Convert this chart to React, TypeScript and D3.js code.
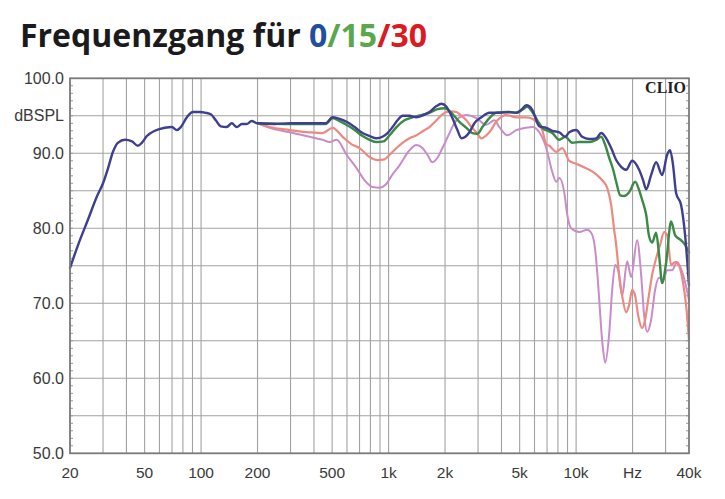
import React from "react";
import * as d3 from "d3";

// ---- data: [frequency Hz, dB SPL] ----
const curve0: [number, number][] = [
  [20, 74.7], [22.1, 77.8], [24.9, 81.1], [27.9, 84.3], [30, 86.0], [31.9, 88.0], [33.9, 90.2],
  [36, 91.4], [39.3, 91.8], [42.8, 91.6], [46, 91.0], [48.3, 91.4], [51.4, 92.3], [56.7, 93.0],
  [64.1, 93.4], [69.9, 93.5], [74.3, 93.1], [78, 93.5], [84, 94.8], [90.4, 95.5], [98.5, 95.5],
  [106, 95.4], [112.7, 95.2], [119.8, 94.4], [127.4, 93.6], [137, 93.5], [145.8, 94.0], [155, 93.5],
  [164.8, 93.9], [175, 93.9], [186, 94.3], [200, 94.0], [247, 93.9], [300, 94.0], [393, 94.0],
  [462, 94.0], [503, 94.8], [548, 94.6], [597, 94.2], [659, 93.5], [727, 92.7], [792, 92.3],
  [863, 92.0], [928, 92.2], [987, 92.7], [1050, 93.5], [1116, 94.4], [1187, 95.0], [1292, 95.0],
  [1408, 94.8], [1535, 95.1], [1652, 95.5], [1800, 96.3], [1914, 96.6], [2035, 96.2], [2190, 94.7],
  [2328, 93.1], [2446, 92.0], [2568, 92.2], [2698, 92.8], [2868, 94.0], [3124, 94.8], [3448, 95.4],
  [3898, 95.4], [4406, 95.5], [4800, 95.4], [5102, 95.8], [5426, 96.4], [5842, 95.8], [6364, 93.6],
  [6934, 93.4], [7466, 93.0], [8134, 92.8], [8752, 92.2], [9192, 92.8], [10020, 93.1], [10778, 92.2],
  [11748, 91.9], [12806, 92.0], [13612, 92.7], [14472, 92.0], [15386, 90.7], [16358, 89.1],
  [17392, 88.2], [18492, 87.8], [19904, 89.0], [21680, 87.8], [22780, 86.4], [23640, 85.2],
  [25120, 87.1], [26720, 88.8], [28760, 87.1], [30580, 89.8], [31720, 90.4], [32900, 88.4],
  [34140, 84.7], [36300, 83.1], [38120, 79.1], [40000, 72.4],
];

const curve15: [number, number][] = [
  [200, 94.0], [300, 93.9], [393, 93.9], [462, 93.9], [503, 94.7], [548, 94.3], [597, 93.8],
  [659, 93.1], [727, 92.3], [792, 91.8], [863, 91.5], [940, 91.6], [1012, 92.4], [1102, 93.5],
  [1216, 94.4], [1341, 94.8], [1497, 95.1], [1652, 95.4], [1822, 95.9], [1985, 96.0], [2164, 95.4],
  [2386, 94.2], [2600, 93.4], [2798, 92.7], [2976, 92.6], [3164, 93.5], [3448, 94.7], [3756, 95.4],
  [4246, 95.5], [4800, 95.4], [5166, 95.8], [5494, 96.2], [5842, 95.5], [6210, 94.4], [6602, 93.4],
  [7466, 92.7], [8134, 91.8], [8752, 92.2], [9538, 91.4], [10392, 91.5], [11748, 91.5], [12806, 91.8],
  [13612, 92.2], [14296, 91.1], [15014, 89.4], [15768, 87.8], [16358, 86.2], [17180, 84.4],
  [18044, 84.3], [19184, 84.8], [20646, 86.2], [21680, 85.1], [22500, 83.8], [23640, 81.8],
  [24520, 78.9], [25440, 78.1], [26720, 79.4], [27720, 76.4], [28760, 72.7], [30200, 75.4],
  [32100, 80.9], [33720, 79.1], [36300, 78.4], [38120, 77.8], [40000, 76.8],
];

const curve30: [number, number][] = [
  [200, 94.0], [232, 93.5], [297, 93.1], [379, 92.8], [445, 92.7], [503, 93.4], [569, 92.2],
  [635, 91.2], [700, 90.7], [792, 89.5], [873, 89.1], [951, 89.2], [1012, 89.8], [1102, 90.7],
  [1187, 91.4], [1292, 92.0], [1408, 92.4], [1535, 93.0], [1652, 93.5], [1800, 94.4], [1914, 95.1],
  [2035, 95.5], [2164, 95.6], [2300, 95.5], [2446, 95.0], [2600, 94.4], [2764, 93.5], [2938, 92.8],
  [3124, 92.0], [3282, 92.3], [3448, 92.8], [3802, 94.4], [4246, 95.1], [4800, 94.8], [5426, 94.8],
  [5842, 94.6], [6134, 94.2], [6602, 93.1], [6934, 91.2], [7194, 91.0], [7840, 90.2], [8436, 90.7],
  [9192, 89.0], [10020, 88.6], [11324, 88.0], [12806, 87.2], [13778, 86.4], [14648, 85.4],
  [15386, 83.1], [15960, 79.8], [16358, 77.8], [16968, 73.8], [17604, 71.0], [18492, 68.8],
  [19184, 69.8], [19904, 71.8], [20646, 71.0], [21420, 68.4], [22500, 66.7], [23340, 67.8],
  [24220, 70.4], [25440, 73.8], [26720, 76.0], [28060, 77.8], [29460, 79.5], [30580, 79.1],
  [32100, 75.1], [33720, 75.5], [35420, 75.0], [37200, 72.7], [38580, 69.8], [40000, 65.1],
];

const curve45: [number, number][] = [
  [200, 94.0], [232, 93.4], [297, 92.8], [379, 92.2], [445, 91.8], [485, 91.5], [528, 91.8],
  [597, 89.8], [675, 88.0], [745, 86.4], [821, 85.5], [895, 85.4], [963, 85.8], [1037, 87.0],
  [1144, 88.4], [1292, 90.4], [1408, 91.1], [1516, 90.7], [1612, 89.8], [1714, 88.8], [1822, 89.4],
  [1937, 90.7], [2086, 92.4], [2244, 94.0], [2386, 94.8], [2600, 95.1], [2938, 94.7], [3322, 93.8],
  [3664, 94.4], [3898, 93.5], [4298, 92.4], [4800, 93.1], [5426, 93.4], [5842, 93.5], [6364, 92.8],
  [6934, 90.7], [7466, 87.5], [7840, 86.2], [8134, 86.7], [8646, 84.8], [8972, 81.8], [9422, 80.0],
  [10392, 79.5], [11464, 79.8], [12040, 79.4], [12644, 77.1], [13120, 72.4], [13778, 65.0],
  [14296, 62.1], [15014, 66.0], [15574, 71.8], [16156, 75.1], [16760, 74.4], [17604, 71.0],
  [18720, 75.6], [19660, 73.5], [21160, 78.4], [22220, 73.8], [23060, 68.4], [23920, 66.2],
  [25120, 67.8], [26380, 71.8], [27720, 73.4], [29100, 73.1], [30580, 74.4], [32500, 74.4],
  [34560, 75.5], [37200, 73.8], [40000, 70.4],
];

const xTickValues = [20, 50, 100, 200, 500, 1000, 2000, 5000, 10000, 20000, 40000];
const xTickLabels = ["20", "50", "100", "200", "500", "1k", "2k", "5k", "10k", "Hz", "40k"];
const yTickValues = [100, 90, 80, 70, 60, 50];
const yTickLabels = ["100.0", "90.0", "80.0", "70.0", "60.0", "50.0"];
const yUnitLabel = "dBSPL";
const yUnitValue = 95;
const gridFreqs = [
  30, 40, 50, 60, 70, 80, 90, 100, 200, 300, 400, 500, 600, 700, 800, 900,
  1000, 2000, 3000, 4000, 5000, 6000, 7000, 8000, 9000, 10000, 20000, 30000,
];
const gridDb = [95, 90, 85, 80, 75, 70, 65, 60, 55];

const series = [
  { data: curve45, color: "#c98cc9", width: 2 },
  { data: curve30, color: "#ec8a82", width: 2.2 },
  { data: curve15, color: "#3a8a45", width: 2.4 },
  { data: curve0, color: "#3e3f8e", width: 2.4 },
];

export default function App() {
  const left = 70, right = 689, top = 78.3, bottom = 453.3;
  const x = d3.scaleLog().domain([20, 40000]).range([left, right]);
  const y = d3.scaleLinear().domain([50, 100]).range([bottom, top]);
  const line = d3
    .line<[number, number]>()
    .x((d) => x(d[0]))
    .y((d) => y(d[1]))
    .curve(d3.curveMonotoneX);
  const minor = d3.range(50, 101, 1);

  return (
    <svg
      width={725}
      height={499}
      style={{ position: "absolute", left: 0, top: 0, background: "#fff" }}
    >
      <rect x={0} y={0} width={725} height={499} fill="#fff" />
      <text
        x={20}
        y={47}
        fontFamily="Open Sans"
        fontWeight={700}
        fontSize={32}
        textLength={407}
        lengthAdjust="spacingAndGlyphs"
      >
        <tspan fill="#1b1b1d">Frequenzgang für </tspan>
        <tspan fill="#1f4f9e">0</tspan>
        <tspan fill="#5aa74d">/15</tspan>
        <tspan fill="#dc1a22">/30</tspan>
      </text>

      <g stroke="#a2a2a2" strokeWidth={1.1}>
        {gridFreqs.map((f) => (
          <line key={"v" + f} x1={x(f)} x2={x(f)} y1={top} y2={bottom} />
        ))}
        {gridDb.map((v) => (
          <line key={"h" + v} x1={left} x2={right} y1={y(v)} y2={y(v)} />
        ))}
      </g>
      <g stroke="#9a9a9a" strokeWidth={1}>
        {minor.map((v) => (
          <line key={"ml" + v} x1={left} x2={left + 3} y1={y(v)} y2={y(v)} />
        ))}
        {minor.map((v) => (
          <line key={"mr" + v} x1={right - 3} x2={right} y1={y(v)} y2={y(v)} />
        ))}
      </g>

      <g fill="none" strokeLinejoin="round" strokeLinecap="round">
        {series.map((s, i) => (
          <path key={i} d={line(s.data) || ""} stroke={s.color} strokeWidth={s.width} />
        ))}
      </g>

      <rect
        x={left}
        y={top}
        width={right - left}
        height={bottom - top}
        fill="none"
        stroke="#7a7a7a"
        strokeWidth={1.8}
      />

      <text
        x={686}
        y={93}
        textAnchor="end"
        fontFamily="Liberation Serif"
        fontWeight={700}
        fontSize={16}
        fill="#222"
      >
        CLIO
      </text>

      <g fontFamily="Liberation Sans" fontSize={16} fill="#3a3a3a" textAnchor="end">
        {yTickValues.map((v, i) => (
          <text key={v} x={64} y={y(v) + 5.5}>
            {yTickLabels[i]}
          </text>
        ))}
        <text x={64} y={y(yUnitValue) + 5.5}>
          {yUnitLabel}
        </text>
      </g>
      <g fontFamily="Liberation Sans" fontSize={15.5} fill="#3a3a3a" textAnchor="middle">
        {xTickValues.map((v, i) => (
          <text key={v} x={x(v)} y={478}>
            {xTickLabels[i]}
          </text>
        ))}
      </g>
    </svg>
  );
}
